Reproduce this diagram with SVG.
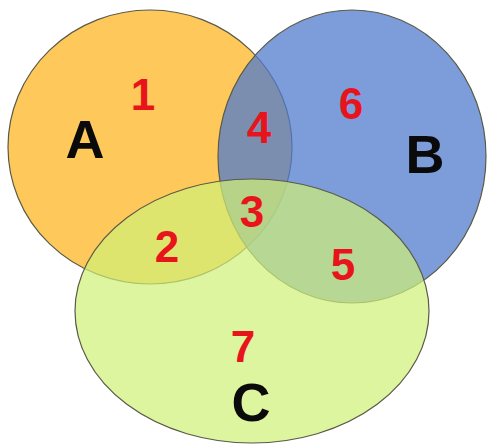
<svg xmlns="http://www.w3.org/2000/svg" width="489" height="444" viewBox="0 0 489 444">
<style>
.set{stroke:#5a5a48;stroke-width:1.2}
.big{font-family:"Liberation Sans",Arial,sans-serif;font-weight:bold;font-size:54px;fill:#0a0a0a;text-anchor:middle}
.num{font-family:"Liberation Sans",Arial,sans-serif;font-weight:bold;font-size:44px;fill:#e8141c;text-anchor:middle}
</style>
<rect width="489" height="444" fill="#ffffff"/>
<g id="setA">
<ellipse class="set" cx="150" cy="147" rx="142" ry="137" fill="#ffc85a"/>
<text class="big" x="85" y="158">A</text>
</g>
<g id="setB">
<ellipse class="set" cx="352" cy="156.5" rx="134" ry="146.5" fill="#507bcd" fill-opacity="0.75"/>
<text class="big" x="425" y="173">B</text>
</g>
<g id="setC">
<ellipse class="set" cx="252" cy="311" rx="177" ry="132" fill="#d0f177" fill-opacity="0.7"/>
<text class="big" x="251" y="421">C</text>
</g>
<g id="connectors"></g>
<g id="regions">
<text class="num" x="143" y="110">1</text>
<text class="num" x="167" y="262">2</text>
<text class="num" x="252" y="227">3</text>
<text class="num" x="259" y="143">4</text>
<text class="num" x="343" y="280">5</text>
<text class="num" x="351" y="119">6</text>
<text class="num" x="243" y="362">7</text>
</g>
</svg>
